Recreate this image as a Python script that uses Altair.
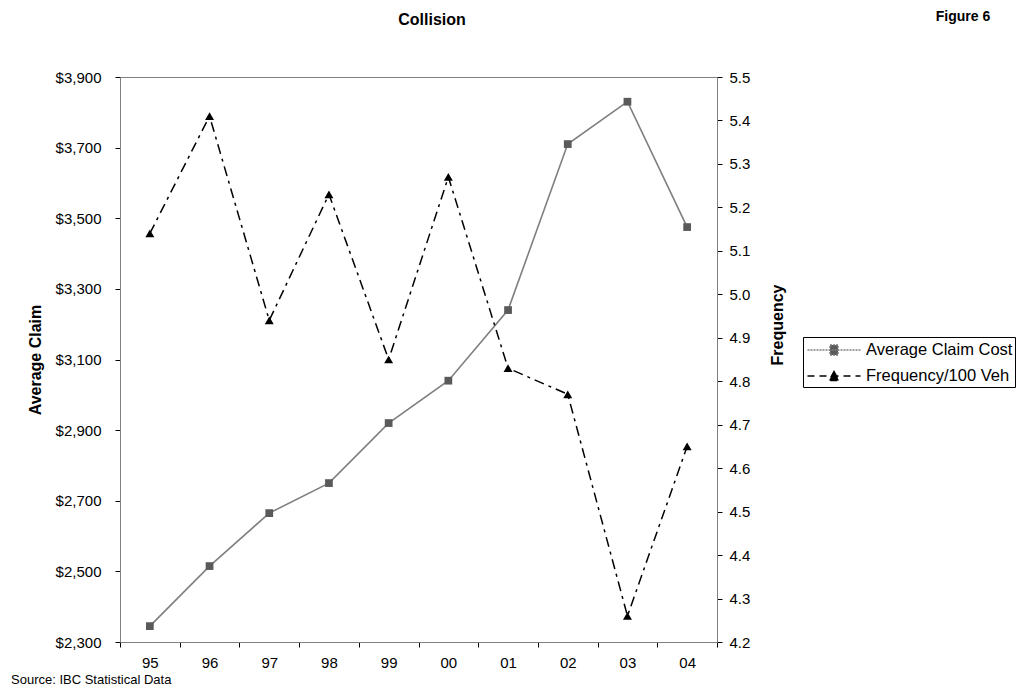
import altair as alt
import pandas as pd

# ---- data ----
years = ["95", "96", "97", "98", "99", "00", "01", "02", "03", "04"]
avg_claim = [2345, 2515, 2665, 2750, 2920, 3040, 3240, 3710, 3830, 3475]
frequency = [5.14, 5.41, 4.94, 5.23, 4.85, 5.27, 4.83, 4.77, 4.26, 4.65]
series_names = ["Average Claim Cost", "Frequency/100 Veh"]
claim_ticks = [2300, 2500, 2700, 2900, 3100, 3300, 3500, 3700, 3900]
freq_ticks = [4.2, 4.3, 4.4, 4.5, 4.6, 4.7, 4.8, 4.9, 5.0, 5.1, 5.2, 5.3, 5.4, 5.5]
title_text = "Collision"
figure_text = "Figure 6"
source_text = "Source:  IBC Statistical Data"

df = pd.DataFrame({"year": years, "claim": avg_claim, "freq": frequency})

FONT = "Liberation Sans"
W, H = 597, 565

x_enc = alt.X(
    "year:N",
    sort=years,
    scale=alt.Scale(type="band", paddingInner=0, paddingOuter=0),
    axis=alt.Axis(
        title=None, labelAngle=0, tickBand="extent", tickSize=5,
        labelPadding=8, labelFontSize=15, labelColor="#000",
        domainColor="#808080", tickColor="#000",
    ),
)

y_claim = alt.Y(
    "claim:Q",
    scale=alt.Scale(domain=[2300, 3900], nice=False, zero=False),
    axis=alt.Axis(
        values=claim_ticks, format="$,.0f", title="Average Claim",
        titleFontSize=16, titleFontWeight="bold", titleX=-85, titleY=H / 2,
        titleAngle=270, titleAlign="center", titleBaseline="middle",
        labelFontSize=15, labelPadding=14, tickSize=5, grid=False,
        domainColor="#808080", tickColor="#000", labelColor="#000",
    ),
)

y_freq = alt.Y(
    "freq:Q",
    scale=alt.Scale(domain=[4.2, 5.5], nice=False, zero=False),
    axis=alt.Axis(
        orient="right", values=freq_ticks, format=".1f", title="Frequency",
        titleFontSize=16, titleFontWeight="bold", titleX=60, titleY=H / 2 - 35,
        titleAngle=270, titleAlign="center", titleBaseline="middle",
        labelFontSize=15, labelPadding=7, tickSize=5, grid=False,
        domainColor="#808080", tickColor="#000", labelColor="#000",
    ),
)

base = alt.Chart(df)

claim_line = base.mark_line(color="#7f7f7f", strokeWidth=1.6).encode(x=x_enc, y=y_claim)
claim_pts = base.mark_point(shape="square", filled=True, color="#5a5a5a", size=60, opacity=1).encode(x=x_enc, y=y_claim)
claim_layer = alt.layer(claim_line, claim_pts)

freq_line = base.mark_line(color="#000000", strokeWidth=1.5, strokeDash=[10, 5, 3, 5]).encode(x=x_enc, y=y_freq)
freq_pts = base.mark_point(shape="triangle-up", filled=True, color="#000000", size=80, opacity=1).encode(x=x_enc, y=y_freq)
freq_layer = alt.layer(freq_line, freq_pts)

# legend-only layer (no marks drawn)
legend_df = pd.DataFrame({"series": series_names})
path_sq = "M-2.65,0H2.65M-0.4,-0.5H0.4V0.5H-0.4Z"
path_tri = "M-2.65,0H2.65M0,-0.45L0.5,0.45H-0.5Z"
legend_layer = alt.Chart(legend_df).transform_filter("false").mark_point(filled=True, strokeWidth=1.2, opacity=1).encode(
    shape=alt.Shape("series:N", scale=alt.Scale(domain=series_names, range=[path_sq, path_tri]),
                    legend=alt.Legend(title=None)),
    fill=alt.Fill("series:N", scale=alt.Scale(domain=series_names, range=["#5a5a5a", "#000000"]),
                  legend=alt.Legend(title=None)),
    stroke=alt.Stroke("series:N", scale=alt.Scale(domain=series_names, range=["#7f7f7f", "#000000"]),
                      legend=alt.Legend(title=None)),
    strokeDash=alt.StrokeDash("series:N", scale=alt.Scale(domain=series_names, range=[[2, 1], [7, 5]]),
                              legend=alt.Legend(title=None)),
)

title_df = pd.DataFrame({"t": [title_text]})
title_label = alt.Chart(title_df).mark_text(font=FONT, fontSize=16, fontWeight="bold", align="center", baseline="middle").encode(
    text="t:N", x=alt.value(312), y=alt.value(-57))
ann_df = pd.DataFrame({"t": [figure_text]})
fig_label = alt.Chart(ann_df).mark_text(font=FONT, fontSize=14, fontWeight="bold", align="center", baseline="alphabetic").encode(
    text="t:N", x=alt.value(843), y=alt.value(-56))
src_df = pd.DataFrame({"t": [source_text]})
src_label = alt.Chart(src_df).mark_text(font=FONT, fontSize=13, align="left", baseline="alphabetic").encode(
    text="t:N", x=alt.value(-109), y=alt.value(H + 42))

chart = alt.layer(claim_layer, freq_layer, legend_layer, title_label, fig_label, src_label).resolve_scale(
    y="independent"
).properties(
    width=W, height=H,
    autosize=alt.AutoSizeParams(type="none"),
    padding={"left": 112, "top": 69, "right": 301, "bottom": 46},
).configure(
    font=FONT,
).configure_view(
    stroke="#808080", strokeWidth=1,
).configure_axis(
    labelFont=FONT, titleFont=FONT,
).configure_legend(
    orient="none", legendX=683, legendY=260, strokeColor="#000", padding=2,
    labelFont=FONT, labelFontSize=16.5, labelColor="#000", symbolSize=400,
    symbolOffset=18, labelOffset=21, rowPadding=6, fillColor="#ffffff",
)

chart.save("out.html", embed_options={"renderer": "svg", "actions": False})
